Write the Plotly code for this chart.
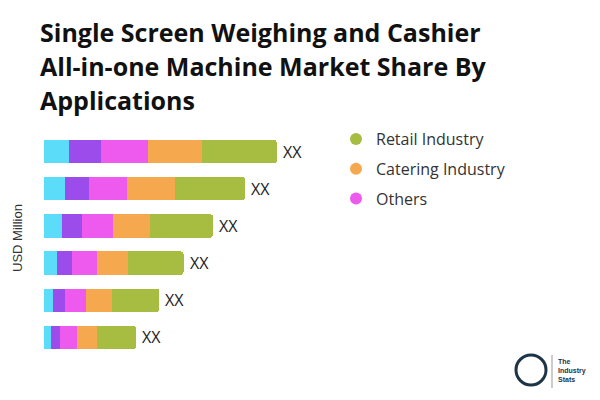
import plotly.graph_objects as go

categories = ["A", "B", "C", "D", "E", "F"]
seg_cyan = [24.7, 21.0, 18.0, 13.3, 9.0, 6.7]
seg_purple = [32.3, 24.3, 20.0, 14.7, 12.0, 9.7]
others = [46.7, 37.3, 31.0, 25.0, 21.0, 17.0]
catering = [54.7, 48.7, 37.3, 31.3, 26.0, 19.3]
retail = [74.3, 69.7, 62.7, 55.3, 47.3, 39.3]
bar_labels = ["XX"] * 6

colors = {
    "cyan": "#5BDCF8",
    "purple": "#9B4CEB",
    "others": "#EE5AEE",
    "catering": "#F5A84D",
    "retail": "#A6BD42",
}

W, H = 600, 400
L, R, T, B = 44, 256, 133, 44
PW, PH = W - L - R, H - T - B


def px_x(x):
    return (x - L) / PW


def px_y(y):
    return (H - B - y) / PH


fig = go.Figure()
series = [
    ("Segment 1", seg_cyan, colors["cyan"]),
    ("Segment 2", seg_purple, colors["purple"]),
    ("Others", others, colors["others"]),
    ("Catering Industry", catering, colors["catering"]),
    ("Retail Industry", retail, colors["retail"]),
]
for name, vals, col in series:
    fig.add_trace(go.Bar(
        y=categories, x=vals, orientation="h", name=name,
        marker=dict(color=col, line=dict(width=0)),
        showlegend=False, hoverinfo="x+name",
    ))

totals = [sum(v) for v in zip(seg_cyan, seg_purple, others, catering, retail)]

# legend entries (circle markers)
for i, (name, col) in enumerate([("Retail Industry", colors["retail"]),
                                 ("Catering Industry", colors["catering"]),
                                 ("Others", colors["others"])]):
    fig.add_trace(go.Scatter(
        x=[None], y=[None], mode="markers", name=name,
        marker=dict(color=col, size=12, symbol="circle"),
        legendgroup=f"g{i}", showlegend=True,
    ))

annotations = []
for cat, tot, lab in zip(categories, totals, bar_labels):
    annotations.append(dict(
        x=tot, y=cat, xref="x", yref="y", text=lab, showarrow=False,
        xanchor="left", yanchor="middle", xshift=4,
        font=dict(size=16, color="#222222", family="Open Sans"),
    ))

title_lines = ["Single Screen Weighing and Cashier",
               "All-in-one Machine Market Share By",
               "Applications"]
for i, line in enumerate(title_lines):
    annotations.append(dict(
        text=f"<b>{line}</b>", xref="paper", yref="paper",
        x=px_x(38), y=px_y(32 + 34 * i), xanchor="left", yanchor="middle",
        showarrow=False, font=dict(size=25, color="#111111", family="Open Sans"),
    ))
annotations.append(dict(
    text="USD Million", xref="paper", yref="paper", x=px_x(17), y=px_y(238),
    xanchor="center", yanchor="middle", textangle=-90, showarrow=False,
    font=dict(size=13, color="#333333", family="Liberation Sans"),
))
annotations.append(dict(
    text="<b>The<br>Industry<br>Stats</b>", xref="paper", yref="paper",
    x=px_x(556), y=px_y(370), xanchor="left", yanchor="middle", align="left",
    showarrow=False, font=dict(size=7, color="#1d3447", family="Liberation Sans"),
))

fig.update_layout(
    width=W, height=H,
    margin=dict(l=L, r=R, t=T, b=B),
    paper_bgcolor="white", plot_bgcolor="white",
    barmode="stack", bargap=0.37, barcornerradius=3,
    xaxis=dict(range=[0, 300], visible=False),
    yaxis=dict(categoryorder="array", categoryarray=categories, autorange="reversed",
               visible=False),
    legend=dict(x=px_x(336), y=px_y(122), xanchor="left", yanchor="top",
                font=dict(size=16, color="#333333", family="Open Sans"),
                tracegroupgap=6, bgcolor="rgba(0,0,0,0)"),
    annotations=annotations,
    shapes=[
        dict(type="circle", xref="paper", yref="paper",
             x0=px_x(516), x1=px_x(546), y0=px_y(385), y1=px_y(355),
             line=dict(color="#1d3447", width=3)),
        dict(type="line", xref="paper", yref="paper",
             x0=px_x(552), x1=px_x(552), y0=px_y(355), y1=px_y(388),
             line=dict(color="#999999", width=1)),
    ],
)

fig.write_html("out.html")
